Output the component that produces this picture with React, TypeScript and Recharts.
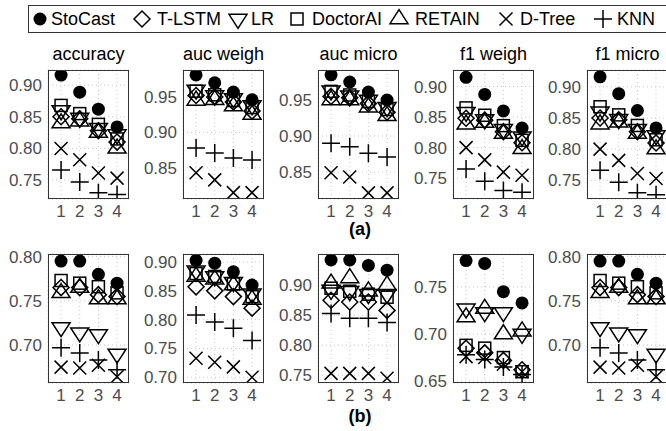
import React from 'react';
import { ScatterChart, Scatter, XAxis, YAxis, CartesianGrid } from 'recharts';

const panelTitles = ['accuracy', 'auc weigh', 'auc micro', 'f1 weigh', 'f1 micro'];
const xCats = [1, 2, 3, 4];

// rows: (a) accuracy, auc weigh, auc micro, f1 weigh, f1 micro, then (b) in the same order
const stoCast = [
  [0.916, 0.889, 0.862, 0.834],
  [0.981, 0.970, 0.957, 0.946],
  [0.985, 0.975, 0.961, 0.950],
  [0.915, 0.887, 0.860, 0.832],
  [0.916, 0.889, 0.862, 0.834],
  [0.795, 0.795, 0.780, 0.770],
  [0.903, 0.898, 0.883, 0.860],
  [0.942, 0.942, 0.933, 0.925],
  [0.778, 0.775, 0.745, 0.733],
  [0.795, 0.795, 0.780, 0.770],
];
const tLstm = [
  [0.850, 0.847, 0.828, 0.810],
  [0.952, 0.950, 0.943, 0.930],
  [0.955, 0.953, 0.945, 0.933],
  [0.848, 0.845, 0.826, 0.808],
  [0.850, 0.847, 0.828, 0.810],
  [0.765, 0.765, 0.757, 0.755],
  [0.857, 0.850, 0.840, 0.820],
  [0.875, 0.872, 0.872, 0.858],
  [0.685, 0.680, 0.672, 0.662],
  [0.765, 0.765, 0.757, 0.755],
];
const lr = [
  [0.860, 0.848, 0.832, 0.822],
  [0.960, 0.952, 0.948, 0.938],
  [0.963, 0.956, 0.950, 0.940],
  [0.858, 0.846, 0.830, 0.818],
  [0.860, 0.848, 0.832, 0.822],
  [0.720, 0.714, 0.712, 0.690],
  [0.885, 0.875, 0.865, 0.845],
  [0.892, 0.890, 0.885, 0.885],
  [0.727, 0.723, 0.723, 0.700],
  [0.720, 0.714, 0.712, 0.690],
];
const doctorAI = [
  [0.868, 0.855, 0.838, 0.815],
  [0.958, 0.953, 0.945, 0.935],
  [0.962, 0.957, 0.948, 0.937],
  [0.865, 0.853, 0.836, 0.812],
  [0.868, 0.855, 0.838, 0.815],
  [0.773, 0.770, 0.766, 0.759],
  [0.880, 0.875, 0.862, 0.840],
  [0.895, 0.890, 0.885, 0.880],
  [0.688, 0.685, 0.675, 0.660],
  [0.773, 0.770, 0.766, 0.759],
];
const retain = [
  [0.840, 0.843, 0.825, 0.800],
  [0.945, 0.946, 0.937, 0.925],
  [0.950, 0.950, 0.940, 0.928],
  [0.838, 0.841, 0.823, 0.798],
  [0.840, 0.843, 0.825, 0.800],
  [0.759, 0.765, 0.752, 0.752],
  [0.875, 0.870, 0.860, 0.835],
  [0.903, 0.912, 0.890, 0.900],
  [0.718, 0.727, 0.700, 0.703],
  [0.759, 0.765, 0.752, 0.752],
];
const dTree = [
  [0.800, 0.782, 0.761, 0.753],
  [0.843, 0.833, 0.815, 0.815],
  [0.849, 0.843, 0.821, 0.821],
  [0.800, 0.780, 0.760, 0.755],
  [0.800, 0.782, 0.761, 0.753],
  [0.675, 0.674, 0.677, 0.664],
  [0.733, 0.726, 0.718, 0.700],
  [0.753, 0.753, 0.753, 0.745],
  [0.676, 0.675, 0.668, 0.660],
  [0.675, 0.674, 0.677, 0.664],
];
const knn = [
  [0.766, 0.747, 0.730, 0.727],
  [0.878, 0.871, 0.864, 0.861],
  [0.890, 0.885, 0.876, 0.871],
  [0.765, 0.745, 0.730, 0.727],
  [0.766, 0.747, 0.730, 0.727],
  [0.697, 0.691, 0.683, 0.672],
  [0.808, 0.796, 0.785, 0.764],
  [0.853, 0.845, 0.845, 0.838],
  [0.678, 0.673, 0.665, 0.657],
  [0.697, 0.691, 0.683, 0.672],
];

const yDomains = [
  [0.72, 0.924], [0.806, 0.988], [0.8125, 0.9917], [0.716, 0.927], [0.72, 0.927],
  [0.657, 0.803], [0.69, 0.914], [0.737, 0.952], [0.648, 0.785], [0.657, 0.803],
];
const yTicks = [
  [0.75, 0.8, 0.85, 0.9], [0.85, 0.9, 0.95], [0.85, 0.9, 0.95], [0.75, 0.8, 0.85, 0.9], [0.75, 0.8, 0.85, 0.9],
  [0.7, 0.75, 0.8], [0.7, 0.75, 0.8, 0.85, 0.9], [0.75, 0.8, 0.85, 0.9], [0.65, 0.7, 0.75], [0.7, 0.75, 0.8],
];

const series = [
  { name: 'StoCast', kind: 'circle', values: stoCast },
  { name: 'T-LSTM', kind: 'diamond', values: tLstm },
  { name: 'LR', kind: 'down', values: lr },
  { name: 'DoctorAI', kind: 'square', values: doctorAI },
  { name: 'RETAIN', kind: 'up', values: retain },
  { name: 'D-Tree', kind: 'cross', values: dTree },
  { name: 'KNN', kind: 'plus', values: knn },
];

const boxLefts = [48, 183, 318, 453, 587];
const rowTops = [70, 254];
const BOX_W = 81;
const BOX_H = 129;
const Y_W = 50;
const X_H = 25;
const PAD_T = 12;

function marker(kind: string, cx: number, cy: number) {
  const sw = 1.5;
  switch (kind) {
    case 'circle':
      return <circle cx={cx} cy={cy} r={6.5} fill="#000" />;
    case 'diamond':
      return <path d={`M${cx},${cy - 8}L${cx + 8},${cy}L${cx},${cy + 8}L${cx - 8},${cy}Z`} fill="none" stroke="#000" strokeWidth={sw} />;
    case 'down':
      return <path d={`M${cx - 9},${cy - 4.7}L${cx + 9},${cy - 4.7}L${cx},${cy + 9.3}Z`} fill="none" stroke="#000" strokeWidth={sw} />;
    case 'up':
      return <path d={`M${cx - 9},${cy + 4.7}L${cx + 9},${cy + 4.7}L${cx},${cy - 9.3}Z`} fill="none" stroke="#000" strokeWidth={sw} />;
    case 'square':
      return <rect x={cx - 6} y={cy - 6} width={12} height={12} fill="none" stroke="#000" strokeWidth={sw} />;
    case 'cross':
      return <path d={`M${cx - 6.5},${cy - 6.5}L${cx + 6.5},${cy + 6.5}M${cx - 6.5},${cy + 6.5}L${cx + 6.5},${cy - 6.5}`} stroke="#000" strokeWidth={sw} />;
    default:
      return <path d={`M${cx - 9},${cy}L${cx + 9},${cy}M${cx},${cy - 9}L${cx},${cy + 9}`} stroke="#000" strokeWidth={sw} />;
  }
}

function Panel({ idx }: { idx: number }) {
  const row = idx < 5 ? 0 : 1;
  const col = idx % 5;
  const left = boxLefts[col] - Y_W;
  const top = rowTops[row] - PAD_T;
  const w = Y_W + BOX_W;
  const h = PAD_T + BOX_H + X_H;
  return (
    <div style={{ position: 'absolute', left, top, width: w, height: h }}>
      <ScatterChart width={w} height={h} margin={{ top: PAD_T, right: 0, bottom: 0, left: 0 }}>
        <CartesianGrid stroke="#c8c8c8" strokeDasharray="1 3" />
        <XAxis
          type="number"
          dataKey="x"
          domain={[0.3, 4.64]}
          ticks={xCats}
          interval={0}
          allowDataOverflow
          height={X_H}
          axisLine={false}
          tickLine={false}
          tickSize={4}
          tickMargin={2}
          tick={{ fontSize: 17, fill: '#4d4d4d' }}
        />
        <YAxis
          type="number"
          dataKey="y"
          domain={yDomains[idx]}
          ticks={yTicks[idx]}
          interval={0}
          allowDataOverflow
          width={Y_W}
          axisLine={false}
          tickLine={false}
          tickSize={4}
          tickMargin={2}
          tickFormatter={(v: number) => v.toFixed(2)}
          tick={{ fontSize: 17, fill: '#4d4d4d' }}
        />
        {series.map((s) => (
          <Scatter
            key={s.name}
            name={s.name}
            data={xCats.map((x, i) => ({ x, y: s.values[idx][i] }))}
            shape={(p: any) => marker(s.kind, p.cx, p.cy)}
            isAnimationActive={false}
          />
        ))}
      </ScatterChart>
      <div
        style={{
          position: 'absolute', left: Y_W, top: PAD_T, width: BOX_W, height: BOX_H,
          border: '1px solid #333', boxSizing: 'border-box', pointerEvents: 'none',
        }}
      />
      {row === 0 && (
        <div
          style={{
            position: 'absolute', left: Y_W - 20, top: PAD_T - 27, width: BOX_W + 40, height: 22,
            lineHeight: '22px', textAlign: 'center', fontSize: 18, color: '#000', whiteSpace: 'nowrap',
          }}
        >
          {panelTitles[col]}
        </div>
      )}
    </div>
  );
}

const legendPos = [
  { icon: 40, text: 51 },
  { icon: 142, text: 157 },
  { icon: 238, text: 251 },
  { icon: 297, text: 312 },
  { icon: 399, text: 415 },
  { icon: 506, text: 520 },
  { icon: 603, text: 617 },
];

export default function App() {
  return (
    <div
      style={{
        position: 'absolute', left: 0, top: 0, width: 666, height: 431, overflow: 'hidden',
        background: '#fff', fontFamily: '"Liberation Sans", Arial, sans-serif',
      }}
    >
      <svg width={666} height={40} style={{ position: 'absolute', left: 0, top: 0 }}>
        <rect x={28.5} y={5.5} width={700} height={27} fill="none" stroke="#333" strokeWidth={1} />
        {series.map((s, i) => (
          <g key={s.name}>
            {marker(s.kind, legendPos[i].icon, 19)}
            <text x={legendPos[i].text} y={19} dominantBaseline="central" fontSize={18} fill="#000">
              {s.name}
            </text>
          </g>
        ))}
      </svg>
      {Array.from({ length: 10 }, (_, i) => (
        <Panel key={i} idx={i} />
      ))}
      <div style={{ position: 'absolute', left: 330, top: 220, width: 60, textAlign: 'center', fontSize: 18, fontWeight: 'bold', lineHeight: '18px' }}>
        (a)
      </div>
      <div style={{ position: 'absolute', left: 330, top: 407, width: 60, textAlign: 'center', fontSize: 18, fontWeight: 'bold', lineHeight: '18px' }}>
        (b)
      </div>
    </div>
  );
}
